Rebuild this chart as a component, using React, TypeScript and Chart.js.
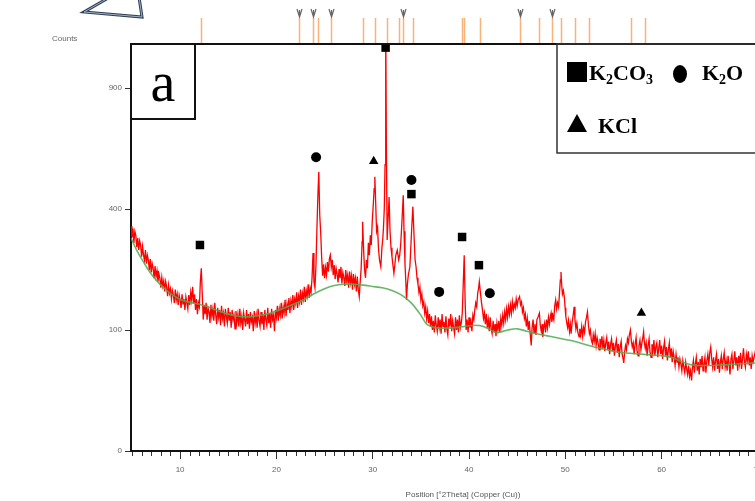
import React, { useEffect, useRef } from 'react';
import { Chart, registerables, LinearScale } from 'chart.js';

// ---------- data ----------
const yTickValues = [0, 100, 400, 900];
const xTickValues = [10, 20, 30, 40, 50, 60, 70];

// observed diffraction scan, low-angle part: [2theta, counts]
const scanLow: [number, number][] = [
  [4.9,345],[5.0,312],[5.1,338],[5.2,296],[5.3,330],[5.4,318],[5.5,284],[5.6,310],[5.7,276],[5.8,302],[5.9,290],
  [6.0,258],[6.1,286],[6.2,262],[6.3,248],[6.4,276],[6.5,240],[6.6,262],[6.7,250],[6.8,224],[6.9,252],
  [7.0,218],[7.1,240],[7.2,228],[7.3,204],[7.4,234],[7.5,208],[7.6,222],[7.7,196],[7.8,214],[7.9,204],
  [8.0,182],[8.1,206],[8.2,186],[8.3,198],[8.4,174],[8.5,196],[8.6,184],[8.7,164],[8.8,188],[8.9,170],
  [9.0,180],[9.1,158],[9.2,176],[9.3,166],[9.4,150],[9.5,178],[9.6,156],[9.7,168],[9.8,146],[9.9,166],
  [10.0,156],[10.1,140],[10.2,168],[10.3,148],[10.4,158],[10.5,136],[10.6,162],[10.7,150],[10.8,138],[10.9,166],
  [11.0,146],[11.1,172],[11.2,156],[11.3,184],[11.4,150],[11.5,168],[11.6,136],[11.7,158],[11.8,128],[11.9,150],
  [12.0,142],[12.1,196],[12.2,228],[12.3,168],[12.4,118],[12.5,146],[12.6,128],[12.7,150],[12.8,118],[12.9,140],
  [13.0,132],[13.1,112],[13.2,146],[13.3,124],[13.4,138],[13.5,116],[13.6,150],[13.7,126],[13.8,110],[13.9,140],
  [14.0,122],[14.1,136],[14.2,108],[14.3,144],[14.4,120],[14.5,130],[14.6,106],[14.7,138],[14.8,124],[14.9,112],
  [15.0,140],[15.1,116],[15.2,132],[15.3,104],[15.4,136],[15.5,118],[15.6,126],[15.7,102],[15.8,134],[15.9,114],
  [16.0,128],[16.1,106],[16.2,138],[16.3,112],[16.4,124],[16.5,100],[16.6,130],[16.7,118],[16.8,106],[16.9,136],
  [17.0,110],[17.1,128],[17.2,102],[17.3,132],[17.4,114],[17.5,122],[17.6,98],[17.7,134],[17.8,112],[17.9,126],
  [18.0,104],[18.1,138],[18.2,116],[18.3,106],[18.4,132],[18.5,110],[18.6,128],[18.7,100],[18.8,136],[18.9,118],
  [19.0,108],[19.1,140],[19.2,112],[19.3,130],[19.4,104],[19.5,138],[19.6,118],[19.7,126],[19.8,98],[19.9,136],
];

// observed scan, amorphous hump and main reflections
const scanMid: [number, number][] = [
  [20.0,122],[20.1,144],[20.2,116],[20.3,138],[20.4,126],[20.5,150],[20.6,120],[20.7,142],[20.8,130],[20.9,156],
  [21.0,124],[21.1,148],[21.2,136],[21.3,160],[21.4,130],[21.5,154],[21.6,142],[21.7,166],[21.8,136],[21.9,158],
  [22.0,148],[22.1,172],[22.2,140],[22.3,164],[22.4,152],[22.5,178],[22.6,146],[22.7,170],[22.8,158],[22.9,184],
  [23.0,152],[23.1,176],[23.2,164],[23.3,190],[23.4,160],[23.5,182],[23.6,172],[23.7,205],[23.8,268],[23.9,196],
  [24.0,182],[24.1,232],[24.2,330],[24.3,440],[24.4,533],[24.5,380],[24.6,324],[24.7,255],[24.8,210],[24.9,238],
  [25.0,204],[25.1,230],[25.2,212],[25.3,244],[25.4,220],[25.5,252],[25.6,262],[25.7,232],[25.8,250],[25.9,212],
  [26.0,236],[26.1,202],[26.2,228],[26.3,214],[26.4,194],[26.5,226],[26.6,204],[26.7,232],[26.8,192],[26.9,218],
  [27.0,206],[27.1,186],[27.2,224],[27.3,198],[27.4,212],[27.5,182],[27.6,220],[27.7,194],[27.8,210],[27.9,178],
  [28.0,214],[28.1,190],[28.2,204],[28.3,174],[28.4,208],[28.5,178],[28.6,163],[28.7,196],[28.8,228],[28.9,300],
  [28.95,359],[29.05,280],[29.15,225],[29.25,205],[29.35,250],[29.45,228],[29.55,296],[29.65,262],[29.75,318],[29.85,290],
  [29.95,360],[30.05,410],[30.15,470],[30.22,514],[30.3,430],[30.4,330],[30.5,343],[30.6,280],[30.7,250],[30.84,232],
  [30.95,280],[31.05,310],[31.12,343],[31.2,400],[31.28,560],[31.35,1300],[31.42,620],[31.5,304],[31.6,370],[31.7,441],
  [31.8,330],[31.9,282],[32.0,258],[32.1,236],[32.2,216],[32.3,238],[32.4,262],[32.55,276],[32.7,250],[32.8,262],
  [32.9,290],[33.0,340],[33.1,400],[33.17,447],[33.25,330],[33.35,240],[33.45,190],[33.51,156],[33.6,190],[33.7,212],
  [33.86,232],[33.95,280],[34.05,340],[34.17,408],[34.3,310],[34.4,250],[34.5,232],[34.6,205],[34.7,190],[34.8,172],
  [34.9,184],[35.0,156],[35.1,168],[35.2,144],[35.3,152],[35.4,130],[35.5,142],[35.6,120],[35.7,134],[35.8,112],
  [35.9,128],[36.0,106],
];

// observed scan, high-angle part
const scanHigh: [number, number][] = [
  [36.1,124],[36.2,100],[36.3,116],[36.4,96],[36.5,126],[36.6,108],[36.7,98],[36.8,122],[36.9,104],[37.0,118],
  [37.1,94],[37.2,128],[37.3,106],[37.4,114],[37.5,96],[37.6,124],[37.7,102],[37.8,92],[37.9,120],[38.0,106],
  [38.1,128],[38.2,98],[38.3,116],[38.4,104],[38.5,94],[38.6,122],[38.7,100],[38.8,118],[38.9,96],[39.0,126],
  [39.1,104],[39.2,112],[39.3,130],[39.4,190],[39.5,262],[39.6,150],[39.7,100],[39.8,118],[39.9,96],[40.0,122],
  [40.1,104],[40.2,114],[40.3,98],[40.4,126],[40.5,118],[40.6,136],[40.7,150],[40.8,142],[40.9,170],[41.0,182],
  [41.07,196],[41.2,168],[41.3,150],[41.4,136],[41.5,120],[41.6,130],[41.7,110],[41.8,128],[41.9,104],[42.0,118],
  [42.1,98],[42.2,122],[42.3,102],[42.4,94],[42.5,116],[42.6,96],[42.7,110],[42.8,90],[42.9,112],[43.0,100],
  [43.1,116],[43.2,96],[43.3,120],[43.4,108],[43.5,126],[43.6,112],[43.7,132],[43.8,118],[43.9,138],[44.0,122],
  [44.1,142],[44.2,128],[44.3,146],[44.4,130],[44.5,152],[44.6,136],[44.7,148],[44.8,140],[44.9,158],[45.0,144],
  [45.1,156],[45.25,163],[45.35,146],[45.45,152],[45.55,132],[45.65,140],[45.75,120],[45.85,128],[45.95,106],[46.05,120],
  [46.15,100],[46.25,116],[46.35,94],[46.46,76],[46.55,104],[46.65,118],[46.75,96],[46.85,110],[46.95,92],[47.05,118],
  [47.15,122],[47.31,130],[47.4,108],[47.5,98],[47.6,110],[47.66,89],[47.75,104],[47.85,112],[47.95,96],[48.05,118],
  [48.15,104],[48.25,122],[48.35,110],[48.45,124],[48.52,130],[48.6,114],[48.7,126],[48.8,118],[48.9,144],[49.0,156],
  [49.1,138],[49.2,150],[49.3,142],[49.4,172],[49.48,200],[49.55,219],[49.62,190],[49.7,168],[49.8,176],[49.89,163],
  [49.98,140],[50.05,124],[50.15,112],[50.24,104],[50.33,116],[50.43,98],[50.52,110],[50.6,94],[50.7,112],[50.8,124],
  [50.92,142],[51.0,118],[51.1,102],[51.2,112],[51.3,96],[51.43,89],[51.5,102],[51.6,92],[51.7,106],[51.8,90],
  [51.9,104],[52.0,96],[52.1,114],[52.2,122],[52.3,132],[52.4,108],[52.5,94],[52.6,100],[52.7,84],[52.81,79],
  [52.9,92],[53.0,82],[53.1,94],[53.2,76],[53.3,88],[53.4,80],[53.5,70],[53.6,86],[53.7,76],[53.8,90],
  [53.9,72],[54.0,84],[54.1,68],[54.2,80],[54.3,88],[54.4,70],[54.5,82],[54.6,64],[54.7,78],[54.8,86],
  [54.9,68],[55.0,80],[55.1,62],[55.2,76],[55.3,84],[55.4,66],[55.5,78],[55.6,60],[55.7,74],[55.8,82],
  [55.9,64],[56.0,58],[56.07,53],[56.15,66],[56.25,76],[56.35,70],[56.45,86],[56.55,80],[56.65,92],[56.76,100],
  [56.85,84],[56.95,74],[57.05,80],[57.15,64],[57.25,78],[57.35,88],[57.45,68],[57.55,62],[57.65,76],[57.75,84],
  [57.85,70],[57.95,80],[58.05,88],[58.13,97],[58.2,82],[58.3,72],[58.4,80],[58.5,62],[58.6,76],[58.7,86],
  [58.8,66],[58.9,60],[59.0,78],[59.1,68],[59.2,84],[59.3,62],[59.4,74],[59.5,80],[59.6,60],[59.7,72],
  [59.8,84],[59.9,64],[60.0,76],[60.1,58],[60.2,72],[60.3,82],[60.4,62],[60.5,74],[60.6,56],[60.7,70],
  [60.8,80],[60.9,60],[61.0,72],[61.1,54],[61.2,68],[61.3,60],[61.4,50],[61.5,64],[61.6,54],[61.7,60],
  [61.8,48],[61.9,58],[62.0,52],[62.1,44],[62.2,56],[62.3,48],[62.4,42],[62.5,54],[62.6,46],[62.7,40],
  [62.8,50],[62.9,38],[63.0,44],[63.11,34],[63.2,48],[63.3,56],[63.4,42],[63.5,52],[63.6,60],[63.7,44],
  [63.8,54],[63.9,40],[64.0,58],[64.1,48],[64.2,62],[64.3,44],[64.4,52],[64.5,60],[64.6,42],[64.7,56],
  [64.8,64],[64.9,50],[65.0,66],[65.1,74],[65.2,58],[65.3,48],[65.4,60],[65.5,44],[65.6,56],[65.7,64],
  [65.8,46],[65.9,58],[66.0,42],[66.1,54],[66.2,62],[66.3,46],[66.4,58],[66.5,66],[66.6,48],[66.7,56],
  [66.8,44],[66.9,62],[67.0,52],[67.1,40],[67.2,58],[67.3,64],[67.4,46],[67.5,56],[67.6,68],[67.7,50],
  [67.8,60],[67.9,44],[68.0,62],[68.1,52],[68.2,66],[68.3,46],[68.4,58],[68.5,72],[68.6,54],[68.7,48],
  [68.8,64],[68.9,56],[69.0,68],[69.1,50],[69.2,60],[69.3,46],[69.4,62],[69.5,54],[69.7,66],[69.9,50],
  [70.1,60],[70.4,50],[70.8,62],[71.2,52],[71.6,62],[72.0,52],[72.5,62],[73.0,54],[73.5,60],[74.0,56],
];

// fitted background: [2theta, counts]
const backgroundFit: [number, number][] = [
  [4.9,310],[5.5,275],[6,252],[6.5,232],[7,214],[7.5,200],[8,188],[8.5,178],[9,170],[9.5,163],[10,157],
  [11,151],[12,147],[13,141],[14,134],[15,128],[16,124],[17,123],[18,125],[19,128],[20,134],[21,141],
  [22,149],[23,158],[24,170],[25,180],[26,187],[27,190],[28,190],[29,188],[30,185],[31,182],[32,176],
  [33,166],[34,150],[35,126],[35.6,110],[36.5,104],[37.5,103],[38.5,104],[39.5,106],[40.5,108],[41.5,106],
  [42.5,98],[43,96],[44,100],[45,102],[46,98],[47,94],[48,91],[49,88],[50,85],[51,82],[52,78],[53,74],
  [54,71],[55,68],[56,66],[57,65],[58,64],[59,63],[60,62],[61,60],[62,55],[63,51],[64,50],[65,50],
  [66,50.5],[67,51],[68,52],[69,52.5],[71,54],[74,56]
];

// phase identification markers: [2theta, counts]
const k2co3Marks: [number, number][] = [[12.06,290],[31.34,1112],[34.02,451],[39.28,313],[41.03,236]];
const k2oMarks: [number, number][] = [[24.12,590],[34.02,502],[36.9,173],[42.16,170]];
const kclMarks: [number, number][] = [[30.1,574],[57.9,130]];

// reference pattern sticks (2theta) and flagged ones
const referenceSticks = [12.2,22.37,23.81,24.33,25.7,28.97,30.28,31.44,32.75,33.16,34.23,39.28,39.45,41.16,45.29,47.29,48.63,49.59,50.96,52.51,56.8,58.25];
const flaggedSticks = [22.37,23.81,25.7,33.16,45.29,48.63];

const panelLabel = 'a';
const yAxisLabel = 'Counts';
const xAxisLabel = 'Position [°2Theta] (Copper (Cu))';
const legendRow1: [string, boolean][][] = [
  [['K', false], ['2', true], ['CO', false], ['3', true]],
  [['K', false], ['2', true], ['O', false]],
];
const legendRow2: [string, boolean][] = [['KCl', false]];

// ---------- sqrt scale ----------
class SqrtScale extends LinearScale {
  static id = 'sqrt';
  static defaults = LinearScale.defaults;
  buildTicks() {
    (this as any).start = this.min;
    (this as any).end = this.max;
    return yTickValues.map((v) => ({ value: v }));
  }
  getPixelForValue(value: number) {
    const a = Math.sqrt(Math.max(this.min, 0));
    const b = Math.sqrt(this.max);
    return this.getPixelForDecimal((Math.sqrt(Math.max(value, 0)) - a) / (b - a));
  }
  getValueForPixel(pixel: number) {
    const a = Math.sqrt(Math.max(this.min, 0));
    const b = Math.sqrt(this.max);
    const s = a + this.getDecimalForPixel(pixel) * (b - a);
    return s * s;
  }
}
Chart.register(...registerables, SqrtScale as any);

const SERIF = '"Liberation Serif", "Times New Roman", serif';
const SANS = '"Liberation Sans", Arial, sans-serif';

function drawRich(ctx: CanvasRenderingContext2D, parts: [string, boolean][], x: number, y: number, size: number) {
  let cx = x;
  for (const [txt, sub] of parts) {
    ctx.font = `bold ${sub ? Math.round(size * 0.62) : size}px ${SERIF}`;
    ctx.fillText(txt, cx, sub ? y + size * 0.2 : y);
    cx += ctx.measureText(txt).width;
  }
  return cx;
}

const decorPlugin = {
  id: 'decor',
  afterDraw(chart: any) {
    const ctx: CanvasRenderingContext2D = chart.ctx;
    const { left, top, right, bottom } = chart.chartArea;
    const x = chart.scales.x;
    ctx.save();

    // top frame line
    ctx.strokeStyle = '#111';
    ctx.lineWidth = 2;
    ctx.beginPath();
    ctx.moveTo(left - 1, top);
    ctx.lineTo(right, top);
    ctx.stroke();

    // minor x ticks
    ctx.strokeStyle = '#333';
    ctx.lineWidth = 1;
    ctx.beginPath();
    for (let t = Math.ceil(x.min); t <= x.max; t++) {
      if (t % 10 === 0) continue;
      const px = Math.round(x.getPixelForValue(t)) + 0.5;
      ctx.moveTo(px, bottom + 1);
      ctx.lineTo(px, bottom + 5);
    }
    ctx.stroke();

    // reference sticks
    ctx.strokeStyle = 'rgba(247,172,105,0.9)';
    ctx.lineWidth = 1.5;
    ctx.beginPath();
    for (const a of referenceSticks) {
      const px = Math.round(x.getPixelForValue(a)) + 0.5;
      ctx.moveTo(px, 18);
      ctx.lineTo(px, top - 1);
    }
    ctx.stroke();
    ctx.strokeStyle = '#666';
    ctx.lineWidth = 1.2;
    for (const a of flaggedSticks) {
      const px = Math.round(x.getPixelForValue(a)) + 0.5;
      ctx.beginPath();
      ctx.moveTo(px - 2.5, 9);
      ctx.lineTo(px, 17);
      ctx.lineTo(px + 2.5, 9);
      ctx.moveTo(px, 10);
      ctx.lineTo(px, 17);
      ctx.stroke();
    }

    // partial arrow shape at top-left
    ctx.fillStyle = '#fff';
    ctx.beginPath();
    ctx.moveTo(110, -3);
    ctx.lineTo(84, 12);
    ctx.lineTo(142, 17);
    ctx.lineTo(139, -3);
    ctx.closePath();
    ctx.fill();
    ctx.strokeStyle = '#2f3d52';
    ctx.lineWidth = 3;
    ctx.stroke();
    ctx.strokeStyle = '#9fb2c9';
    ctx.lineWidth = 1;
    ctx.stroke();

    // y axis label
    ctx.fillStyle = '#666';
    ctx.font = `8px ${SANS}`;
    ctx.textAlign = 'left';
    ctx.textBaseline = 'alphabetic';
    ctx.fillText(yAxisLabel, 52, 41);

    // panel label box
    ctx.fillStyle = '#fff';
    ctx.fillRect(131, 44, 64, 75);
    ctx.strokeStyle = '#111';
    ctx.lineWidth = 2;
    ctx.strokeRect(131, 44, 64, 75);
    ctx.fillStyle = '#000';
    ctx.font = `56px ${SERIF}`;
    ctx.textAlign = 'center';
    ctx.fillText(panelLabel, 163, 101);

    // legend box
    ctx.fillStyle = '#fff';
    ctx.fillRect(557, 45, 260, 108);
    ctx.strokeStyle = '#333';
    ctx.lineWidth = 1.5;
    ctx.strokeRect(557, 44, 260, 109);
    ctx.fillStyle = '#000';
    ctx.textAlign = 'left';
    ctx.fillRect(567, 62, 20, 20);
    drawRich(ctx, legendRow1[0], 589, 80, 22);
    ctx.beginPath();
    ctx.ellipse(680, 74, 7, 9, 0, 0, Math.PI * 2);
    ctx.fill();
    drawRich(ctx, legendRow1[1], 702, 80, 22);
    ctx.beginPath();
    ctx.moveTo(567, 132);
    ctx.lineTo(587, 132);
    ctx.lineTo(577, 114);
    ctx.closePath();
    ctx.fill();
    drawRich(ctx, legendRow2, 598, 133, 22);

    ctx.restore();
  },
};

const toXY = (arr: [number, number][]) => arr.map(([a, c]) => ({ x: a, y: c }));

export default function App() {
  const ref = useRef<HTMLCanvasElement | null>(null);
  useEffect(() => {
    if (!ref.current) return;
    const chart = new Chart(ref.current, {
      type: 'scatter',
      data: {
        datasets: [
          {
            data: toXY(k2co3Marks), pointStyle: 'rect', pointRadius: 6, pointBackgroundColor: '#000',
            pointBorderColor: '#000', pointBorderWidth: 0, showLine: false, order: 0,
          } as any,
          {
            data: toXY(k2oMarks), pointStyle: 'circle', pointRadius: 5, pointBackgroundColor: '#000',
            pointBorderColor: '#000', pointBorderWidth: 0, showLine: false, order: 0,
          },
          {
            data: toXY(kclMarks), pointStyle: 'triangle', pointRadius: 5.5, pointBackgroundColor: '#000',
            pointBorderColor: '#000', pointBorderWidth: 0, showLine: false, order: 0,
          },
          {
            data: toXY(backgroundFit), showLine: true, borderColor: 'rgba(80,170,80,0.85)', borderWidth: 1.6,
            pointRadius: 0, tension: 0.3, order: 1,
          },
          {
            data: toXY([...scanLow, ...scanMid, ...scanHigh]), showLine: true, borderColor: 'rgb(255,0,0)', borderWidth: 1.3,
            pointRadius: 0, tension: 0, order: 2,
          },
        ],
      },
      options: {
        animation: false,
        responsive: false,
        layout: { padding: { top: 44, left: 0, right: 0, bottom: 0 } },
        plugins: { legend: { display: false }, tooltip: { enabled: false } },
        scales: {
          x: {
            type: 'linear',
            min: 4.9,
            max: 73.85,
            afterFit: (s: any) => { s.height = 50; },
            afterBuildTicks: (s: any) => { s.ticks = xTickValues.map((v) => ({ value: v })); },
            grid: { drawOnChartArea: false, drawTicks: true, tickLength: 8, tickColor: '#333', tickWidth: 1 },
            border: { display: true, color: '#111', width: 2 },
            ticks: { color: '#666', font: { family: SANS, size: 8 }, padding: 6, maxRotation: 0, autoSkip: false },
            title: { display: true, text: xAxisLabel, color: '#555', font: { family: SANS, size: 8 }, padding: { top: 0, bottom: 1 } },
          },
          y: {
            type: 'sqrt' as any,
            min: 0,
            max: 1132,
            afterFit: (s: any) => { s.width = 131; },
            grid: { drawOnChartArea: false, drawTicks: true, tickLength: 6, tickColor: '#333', tickWidth: 1 },
            border: { display: true, color: '#111', width: 2 },
            ticks: { color: '#666', font: { family: SANS, size: 8 }, padding: 3, autoSkip: false },
          },
        },
      } as any,
      plugins: [decorPlugin],
    });
    return () => chart.destroy();
  }, []);

  return (
    <div style={{ position: 'fixed', left: 0, top: 0, width: 801, height: 501, background: '#fff', overflow: 'hidden' }}>
      <canvas ref={ref} width={801} height={501} style={{ display: 'block', width: 801, height: 501 }} />
    </div>
  );
}
